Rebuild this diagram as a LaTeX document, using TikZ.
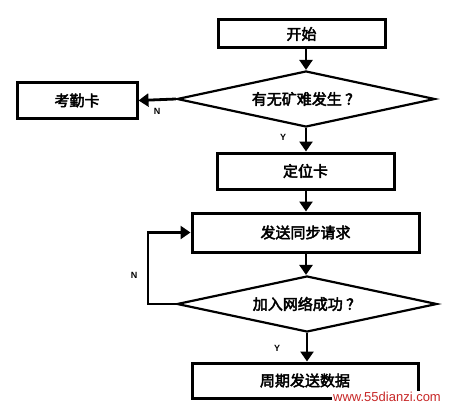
\documentclass[tikz,border=0pt]{standalone}
\usepackage{fontspec}
\newfontfamily\cjk{Noto Sans CJK SC}[FakeBold=3]
\setsansfont{Liberation Sans}
\usetikzlibrary{shapes.geometric,arrows.meta}
\definecolor{wm}{RGB}{200,40,40}
\begin{document}
\begin{tikzpicture}[x=1pt,y=-1pt,
  box/.style={draw, line width=3pt, inner sep=0pt,
    font=\cjk\fontsize{15}{15}\selectfont},
  dia/.style={draw, diamond, aspect=4.6, line width=2.2pt, inner sep=0pt,
    minimum width=258pt, minimum height=56pt,
    font=\cjk\fontsize{15}{15}\selectfont},
  arr/.style={line width=2.8pt, -{Triangle[width=13pt,length=10pt]}},
  yn/.style={font=\sffamily\bfseries\fontsize{9}{9}\selectfont, inner sep=0pt}
]
\useasboundingbox (0,0) rectangle (457,409);
\node[box, minimum width=167pt, minimum height=28pt] (start) at (301.5,34) {开始};
\node[dia] (d1) at (306,99) {有无矿难发生 ？};
\node[box, minimum width=120pt, minimum height=35pt] (kq) at (77,100.5) {考勤卡};
\node[box, minimum width=177pt, minimum height=36pt] (dw) at (305.5,171) {定位卡};
\node[box, minimum width=227pt, minimum height=39pt] (fs) at (305.5,232.5) {发送同步请求};
\node[dia, minimum width=260pt] (d2) at (307,304) {加入网络成功 ？};
\node[box, minimum width=226pt, minimum height=35pt] (zq) at (305,380.5) {周期发送数据};

\draw[arr] (start.south -| d1.north) -- (d1.north);
\draw[arr] (d1.west) -- (kq.east);
\draw[arr] (d1.south) -- (d1.south |- dw.north);
\draw[arr] (dw.south -| d1.south) -- (d1.south |- fs.north);
\draw[arr] (fs.south -| d1.south) -- (d1.south |- d2.north);
\draw[arr] (d2.south) -- (d2.south |- zq.north);
\draw[arr] (d2.west) -- ++(-28,0) |- (fs.west);

\node[yn] (n1) at (157,111) {N};
\node[yn] (y1) at (283,137) {Y};
\node[yn] (n2) at (134,275) {N};
\node[yn] (y2) at (277,348) {Y};

\node[fill=white, text=wm, inner sep=1pt, font=\sffamily\fontsize{13}{13}\selectfont] (wmk) at (387,397) {www.55dianzi.com};
\end{tikzpicture}
\end{document}
